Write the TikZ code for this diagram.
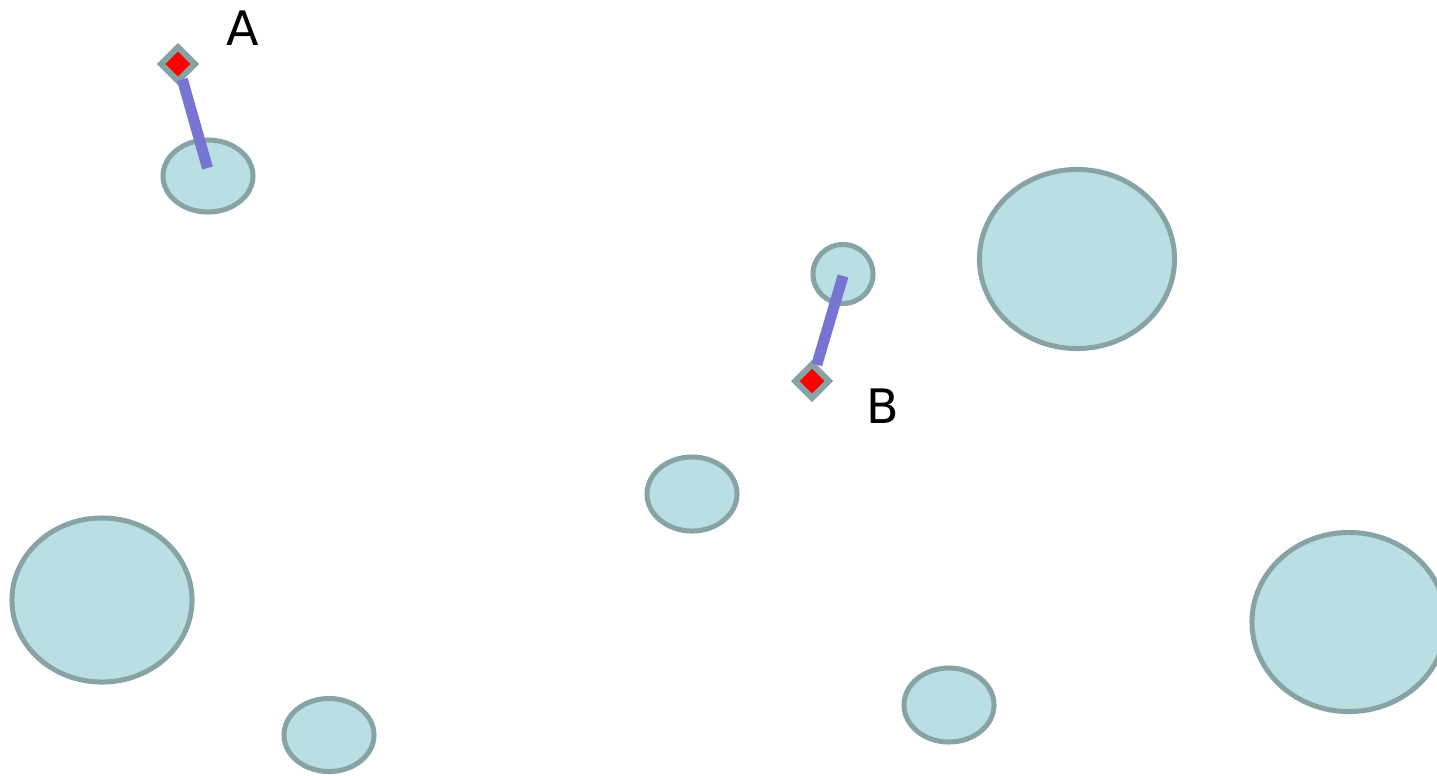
\documentclass[tikz,border=0pt]{standalone}
\usepackage{fontspec}
\setmainfont{DejaVu Sans}
\usetikzlibrary{shapes.geometric}
\definecolor{poolfill}{HTML}{B9DFE2}
\definecolor{pooledge}{HTML}{87A3A5}
\definecolor{tethercol}{HTML}{7676D2}

\begin{document}
\begin{tikzpicture}[
				x=0.01cm,y=-0.01cm,
				pool/.style={draw=pooledge,fill=poolfill,ellipse,line width=0.05cm,inner sep=0pt},
				marker/.style={draw=pooledge,fill=red,diamond,line width=0.06cm,inner sep=0pt,minimum size=0.36cm},
				tether/.style={draw=tethercol,line width=0.11cm},
				tag/.style={font=\fontsize{13.5}{16}\selectfont}
				]
				\useasboundingbox (0,0) rectangle (1437,775);
				
				% Bacini
				\node[pool,minimum width=0.90cm,minimum height=0.72cm] (p1) at (208,176) {};
				\node[pool,minimum width=0.60cm,minimum height=0.59cm] (p2) at (843,274) {};
				\node[pool,minimum width=1.95cm,minimum height=1.79cm] (p3) at (1077,259) {};
				\node[pool,minimum width=0.90cm,minimum height=0.74cm] (p4) at (692,494) {};
				\node[pool,minimum width=1.80cm,minimum height=1.64cm] (p5) at (102,600) {};
				\node[pool,minimum width=0.90cm,minimum height=0.73cm] (p6) at (329,735) {};
				\node[pool,minimum width=0.90cm,minimum height=0.74cm] (p7) at (949,705) {};
				\node[pool,minimum width=1.94cm,minimum height=1.79cm] (p8) at (1349,622) {};
				
				% Punti
				\node[marker] (ma) at (178,64) {};
				\node[marker] (mb) at (812,381) {};
				\node[tag] (la) at (243,28) {A};
				\node[tag] (lb) at (883,406) {B};
				\coordinate (ea) at (207.5,168);
				\coordinate (eb) at (843,276);
				
				% Collegamenti
				\draw[tether,shorten <=0.16cm] (ma.center) -- (ea);
				\draw[tether,shorten <=0.17cm] (mb.center) -- (eb);
				
			\end{tikzpicture}
\end{document}
